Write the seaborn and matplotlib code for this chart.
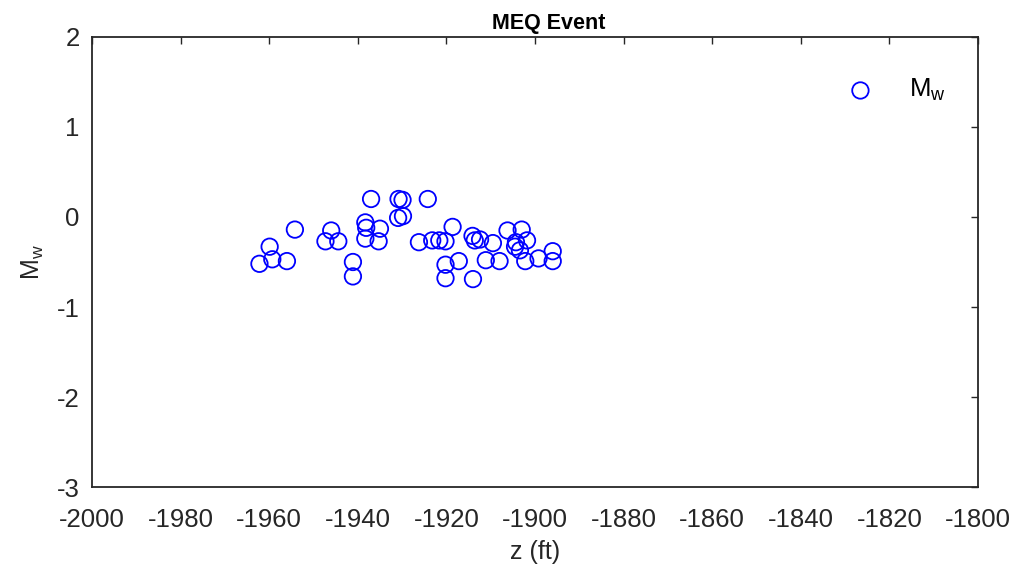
import matplotlib
matplotlib.use("Agg")
import matplotlib.pyplot as plt
import seaborn as sns
import pandas as pd
import numpy as np

# Event depth (ft) and moment magnitude
depth_ft = [
    -1962.2, -1959.9, -1959.3, -1956.0, -1954.2, -1947.3, -1946.0, -1944.4,
    -1941.1, -1941.1, -1938.3, -1938.1, -1938.3, -1937.0, -1935.0, -1935.3,
    -1930.8, -1929.9, -1930.9, -1929.8, -1926.2, -1924.2, -1923.2, -1921.6,
    -1920.2, -1920.2, -1920.2, -1918.6, -1917.2, -1914.1, -1913.6, -1914.0,
    -1912.4, -1911.1, -1909.5, -1908.0, -1906.2, -1904.3, -1904.5, -1903.4,
    -1903.0, -1901.8, -1902.2, -1899.2, -1896.0, -1896.0,
]
magnitude = [
    -0.52, -0.33, -0.47, -0.49, -0.14, -0.27, -0.15, -0.27,
    -0.50, -0.66, -0.06, -0.12, -0.24, 0.20, -0.13, -0.27,
    0.20, 0.19, -0.01, 0.01, -0.28, 0.20, -0.26, -0.26,
    -0.27, -0.53, -0.68, -0.11, -0.49, -0.21, -0.26, -0.69,
    -0.25, -0.48, -0.29, -0.49, -0.15, -0.28, -0.33, -0.37,
    -0.14, -0.26, -0.49, -0.46, -0.38, -0.49,
]
x_ticks = list(range(-2000, -1799, 20))
y_ticks = [-3, -2, -1, 0, 1, 2]

df = pd.DataFrame({"z": depth_ft, "Mw": magnitude})

sns.set_style("white")
plt.rcParams["font.family"] = ["Liberation Sans", "DejaVu Sans"]
plt.rcParams["mathtext.fontset"] = "custom"
plt.rcParams["mathtext.rm"] = "Liberation Sans"
plt.rcParams["mathtext.it"] = "Liberation Sans"

axis_color = "#262626"

fig = plt.figure(figsize=(10.2, 5.7), dpi=100)
ax = fig.add_axes([0.0902, 0.1456, 0.8686, 0.7895])

sns.scatterplot(data=df, x="z", y="Mw", ax=ax, marker="o",
                facecolors="none", edgecolor="#0000ff", linewidth=1.3,
                s=140, label=r"M$_\mathrm{w}$")

ax.set_xlim(-2000, -1800)
ax.set_ylim(-3, 2)
ax.set_xticks(x_ticks)
ax.set_yticks(y_ticks)
ax.set_xticklabels([str(t) for t in x_ticks])
ax.set_yticklabels([str(t) for t in y_ticks])

ax.tick_params(direction="in", length=5, width=1, colors=axis_color,
               labelsize=18.5, top=True, right=True)
ax.tick_params(axis="x", pad=15)
ax.tick_params(axis="y", pad=9)
for side in ax.spines.values():
    side.set_visible(True)
    side.set_color(axis_color)
    side.set_linewidth(1.3)

ax.set_xlabel("z (ft)", fontsize=18, color=axis_color, labelpad=6)
ax.set_ylabel(r"M$_\mathrm{w}$", fontsize=18, color=axis_color, labelpad=8)
ax.set_title("MEQ Event", fontsize=15.5, fontweight="bold", color="black",
             pad=6, x=0.516)

leg = ax.legend(loc="upper right", bbox_to_anchor=(0.99, 0.962),
                frameon=False, fontsize=18.5, handletextpad=0.9,
                markerscale=1.0)
for t in leg.get_texts():
    t.set_color("black")

fig.savefig("out.png", dpi=100, facecolor="white")
